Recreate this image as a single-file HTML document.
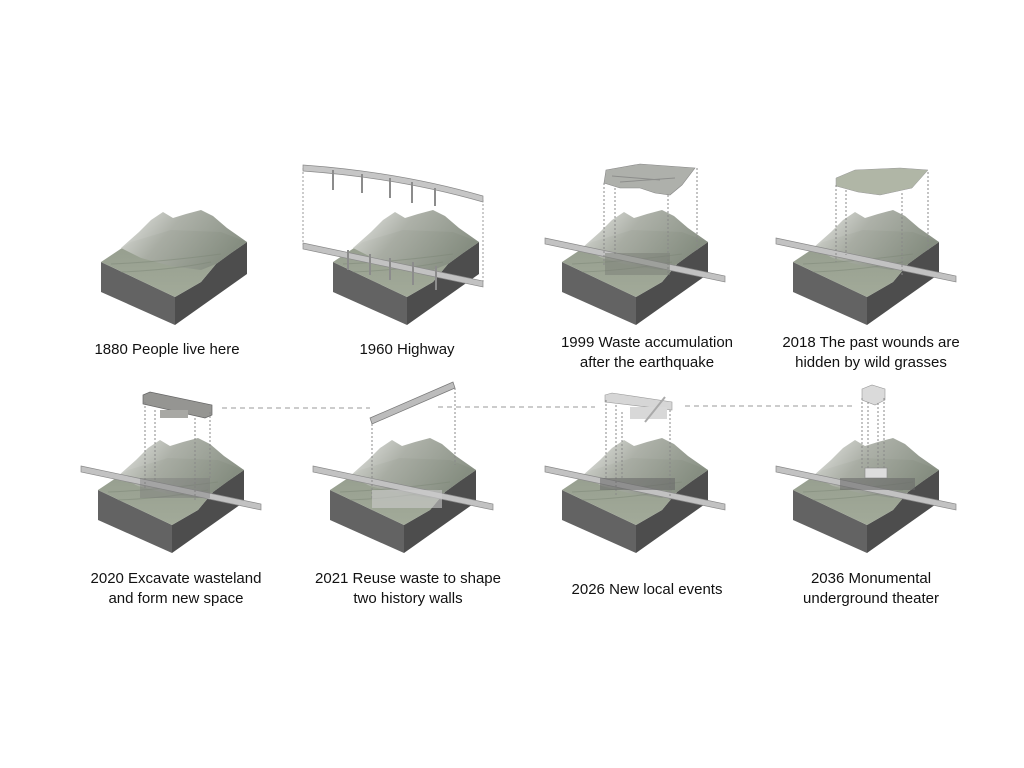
<!DOCTYPE html>
<html><head><meta charset="utf-8"><style>
html,body{margin:0;padding:0;background:#fff}
svg{display:block}
text{font-family:"Liberation Sans",sans-serif;font-size:15px;fill:#111;text-anchor:middle}
</style></head><body>
<svg width="1024" height="768" viewBox="0 0 1024 768" xmlns="http://www.w3.org/2000/svg">
<defs>
<linearGradient id="mt" x1="0" y1="0" x2="1" y2="0.4">
<stop offset="0" stop-color="#e8e9e6"/><stop offset="0.45" stop-color="#a9ada4"/><stop offset="1" stop-color="#858d80"/></linearGradient>
<linearGradient id="gr" x1="0" y1="0" x2="0" y2="1">
<stop offset="0" stop-color="#939b8c"/><stop offset="1" stop-color="#a2aa99"/></linearGradient>
<g id="blk">
<polygon points="0,0 74,35 74,63 0,30" fill="#636363"/>
<polygon points="74,35 100,20 115,2 130,-9 146,-20 146,12 74,63" fill="#4d4d4d"/>
<polygon points="0,0 74,35 100,20 115,2 130,-9 146,-20 120,-30 70,-32 30,-20" fill="url(#gr)"/>
<polygon points="20,-14 38,-30 50,-42 62,-50 72,-44 85,-48 100,-52 112,-46 126,-34 146,-20 130,-9 115,2 100,8 70,4 40,-4" fill="url(#mt)" opacity="0.95"/>
<path d="M10,2 Q60,0 120,-8 M20,10 Q70,8 110,0" stroke="#7c8576" stroke-width="1" fill="none" opacity="0.5"/>
</g>
<g id="hw">
<polygon points="-30,-19 150,19 150,25 -30,-13" fill="#c2c2c2" stroke="#8a8a8a" stroke-width="0.7"/>
</g>
</defs>

<use href="#blk" x="101" y="262"/>

<use href="#blk" x="333" y="262"/>
<use href="#hw" x="333" y="262"/>
<path d="M303,165 Q400,172 483,196 L483,202 Q400,178 303,171Z" fill="#c6c6c6" stroke="#8a8a8a" stroke-width="0.7"/>
<g stroke="#8c8c8c" stroke-width="2"><line x1="333" y1="170" x2="333" y2="190"/><line x1="362" y1="174" x2="362" y2="193"/><line x1="390" y1="178" x2="390" y2="198"/><line x1="412" y1="182" x2="412" y2="203"/><line x1="435" y1="188" x2="435" y2="206"/>
<line x1="348" y1="250" x2="348" y2="270"/><line x1="370" y1="254" x2="370" y2="275"/><line x1="390" y1="258" x2="390" y2="280"/><line x1="413" y1="262" x2="413" y2="285"/><line x1="436" y1="266" x2="436" y2="290"/></g>
<g stroke="#999" stroke-dasharray="2,2" stroke-width="1"><line x1="303" y1="168" x2="303" y2="245"/><line x1="483" y1="200" x2="483" y2="283"/></g>

<use href="#blk" x="562" y="262"/>
<use href="#hw" x="575" y="257"/>
<polygon points="606,170 640,164 695,168 682,185 670,195 655,193 640,188 620,188 604,183" fill="#aeb0ab" stroke="#888" stroke-width="0.6"/>
<path d="M612,176 L660,180 M620,182 L675,178" stroke="#777" stroke-width="1" opacity="0.6"/>
<g stroke="#888" stroke-dasharray="2,2" stroke-width="1"><line x1="604" y1="183" x2="604" y2="265"/><line x1="615" y1="188" x2="615" y2="255"/><line x1="668" y1="195" x2="668" y2="275"/><line x1="697" y1="168" x2="697" y2="250"/></g>
<rect x="605" y="253" width="65" height="22" fill="#7a7d76" opacity="0.5"/>

<use href="#blk" x="793" y="262"/>
<use href="#hw" x="806" y="257"/>
<polygon points="836,178 855,170 900,168 928,170 912,188 880,195 858,192 836,186" fill="#b0b6a6" stroke="#999" stroke-width="0.5"/>
<g stroke="#888" stroke-dasharray="2,2" stroke-width="1"><line x1="836" y1="185" x2="836" y2="262"/><line x1="846" y1="190" x2="846" y2="255"/><line x1="902" y1="193" x2="902" y2="275"/><line x1="928" y1="172" x2="928" y2="250"/></g>

<use href="#blk" x="98" y="490"/>
<use href="#hw" x="111" y="485"/>
<polygon points="143,395 150,392 212,405 212,415 205,418 143,404" fill="#959592" stroke="#666" stroke-width="0.7"/>
<rect x="160" y="410" width="28" height="8" fill="#a8a8a4"/>
<g stroke="#888" stroke-dasharray="2,2" stroke-width="1"><line x1="145" y1="402" x2="145" y2="490"/><line x1="155" y1="410" x2="155" y2="480"/><line x1="195" y1="418" x2="195" y2="500"/><line x1="210" y1="412" x2="210" y2="480"/></g>
<rect x="140" y="478" width="70" height="20" fill="#777" opacity="0.4"/>

<use href="#blk" x="330" y="490"/>
<use href="#hw" x="343" y="485"/>
<polygon points="370,418 453,382 455,388 372,424" fill="#bcbcbc" stroke="#777" stroke-width="0.7"/>
<g stroke="#888" stroke-dasharray="2,2" stroke-width="1"><line x1="372" y1="424" x2="372" y2="498"/><line x1="455" y1="388" x2="455" y2="465"/></g>
<rect x="372" y="490" width="70" height="18" fill="#ccc" opacity="0.6"/>

<use href="#blk" x="562" y="490"/>
<use href="#hw" x="575" y="485"/>
<polygon points="605,395 612,393 672,402 672,410 605,402" fill="#d6d6d6" stroke="#999" stroke-width="0.6"/>
<rect x="630" y="407" width="37" height="12" fill="#d8d8d8"/>
<line x1="645" y1="422" x2="665" y2="397" stroke="#aaa" stroke-width="2"/>
<g stroke="#888" stroke-dasharray="2,2" stroke-width="1"><line x1="606" y1="400" x2="606" y2="480"/><line x1="616" y1="405" x2="616" y2="495"/><line x1="622" y1="412" x2="622" y2="480"/><line x1="670" y1="410" x2="670" y2="500"/></g>
<rect x="600" y="478" width="75" height="12" fill="#666" opacity="0.55"/>

<use href="#blk" x="793" y="490"/>
<use href="#hw" x="806" y="485"/>
<polygon points="862,389 872,385 885,389 885,400 875,405 862,400" fill="#dadada" stroke="#999" stroke-width="0.6"/>
<g stroke="#888" stroke-dasharray="2,2" stroke-width="1"><line x1="862" y1="398" x2="862" y2="470"/><line x1="868" y1="402" x2="868" y2="470"/><line x1="878" y1="403" x2="878" y2="468"/><line x1="884" y1="398" x2="884" y2="470"/></g>
<rect x="865" y="468" width="22" height="10" fill="#ddd" stroke="#888" stroke-width="0.6"/>
<rect x="840" y="478" width="75" height="12" fill="#666" opacity="0.55"/>

<g stroke="#999" stroke-dasharray="5,4" stroke-width="1"><line x1="222" y1="408" x2="370" y2="408"/><line x1="438" y1="407" x2="595" y2="407"/><line x1="685" y1="406" x2="856" y2="406"/></g>

<text x="167" y="354">1880 People live here</text>
<text x="407" y="354">1960 Highway</text>
<text x="647" y="347">1999 Waste accumulation</text>
<text x="647" y="367">after the earthquake</text>
<text x="871" y="347">2018 The past wounds are</text>
<text x="871" y="367">hidden by wild grasses</text>
<text x="176" y="583">2020 Excavate wasteland</text>
<text x="176" y="603">and form new space</text>
<text x="408" y="583">2021 Reuse waste to shape</text>
<text x="408" y="603">two history walls</text>
<text x="647" y="594">2026 New local events</text>
<text x="871" y="583">2036 Monumental</text>
<text x="871" y="603">underground theater</text>
</svg>
</body></html>
